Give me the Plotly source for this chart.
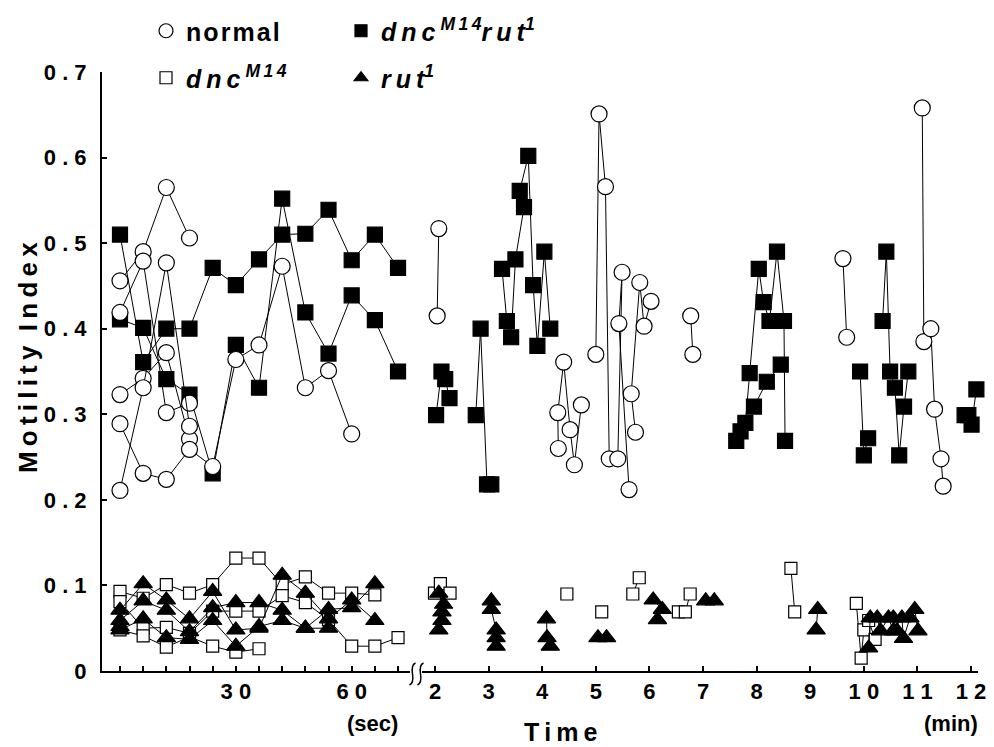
import plotly.graph_objects as go

# ---------------- data ----------------
# seconds section: one value every 6 s (columns at 0, 6, ..., 72 s)
SEC_T = [0, 6, 12, 18, 24, 30, 36, 42, 48, 54, 60, 66, 72]

NORMAL_SEC = [
    [0.456, 0.490, 0.565, 0.506],
    [0.419, 0.479, 0.302, 0.313],
    [0.323, 0.342, 0.372, 0.271],
    [0.289, 0.231, 0.224, 0.259, 0.239, 0.364, 0.381, 0.473, 0.331, 0.351, 0.277],
    [0.211, 0.331, 0.477, 0.286],
]
DNCRUT_SEC = [
    [0.510, 0.361, 0.400, 0.400, 0.471, 0.451, 0.481, 0.510, 0.511, 0.539, 0.480, 0.510, 0.471],
    [0.411, 0.401, 0.341, 0.323, 0.231, 0.381, 0.331, 0.552, 0.419, 0.371, 0.439, 0.410, 0.350],
]
DNC_SEC = [
    [0.093, 0.085, 0.101, 0.091, 0.101, 0.132, 0.132, 0.101, 0.110, 0.091, 0.091, 0.089],
    [0.081, 0.050, 0.051, 0.044, 0.070, 0.070, 0.070, 0.088, 0.080, 0.060, 0.029, 0.029, 0.039],
    [0.048, 0.041, 0.028, 0.040, 0.029, 0.022, 0.026],
]
RUT_SEC = [
    [0.071, 0.102, 0.083, 0.061, 0.093, 0.048, 0.050, 0.112, 0.091, 0.061, 0.083, 0.059],
    [0.059, 0.082, 0.071, 0.046, 0.074, 0.080, 0.080, 0.071, 0.050, 0.072, 0.074, 0.102],
    [0.048, 0.061, 0.039, 0.037, 0.059, 0.029, 0.052, 0.059, 0.050, 0.050],
    [0.052],
]

# minutes section: (time in min, value) per recorded run
NORMAL_MIN_T = [
    [2.07, 2.04],
    [4.30, 4.29, 4.40, 4.52, 4.60, 4.73],
    [5.00, 5.06, 5.18, 5.25],
    [5.41, 5.49, 5.43, 5.62],
    [5.74, 5.66, 5.82, 5.90, 6.03],
    [6.77, 6.81],
    [9.61, 9.68],
    [11.09, 11.12, 11.25, 11.32, 11.44, 11.48],
]
NORMAL_MIN_V = [
    [0.517, 0.415],
    [0.260, 0.302, 0.361, 0.282, 0.241, 0.311],
    [0.370, 0.651, 0.566, 0.248],
    [0.248, 0.466, 0.406, 0.212],
    [0.279, 0.324, 0.454, 0.403, 0.432],
    [0.415, 0.370],
    [0.482, 0.390],
    [0.658, 0.385, 0.400, 0.306, 0.248, 0.216],
]
DNCRUT_MIN_T = [
    [2.02, 2.12, 2.19, 2.27],
    [2.76, 2.85, 2.97, 3.05],
    [3.25, 3.34, 3.42, 3.50, 3.66, 3.58, 3.74, 3.83, 3.91, 4.04, 4.15],
    [7.62, 7.70, 7.79, 7.87, 8.04, 8.13, 8.24, 8.38, 8.51, 8.53],
    [7.95, 8.19, 8.45],
    [9.93, 10.00, 10.08],
    [10.35, 10.42, 10.49, 10.58, 10.66, 10.75, 10.83],
    [11.88, 11.95, 12.01, 12.10],
]
DNCRUT_MIN_V = [
    [0.299, 0.350, 0.341, 0.319],
    [0.299, 0.400, 0.218, 0.218],
    [0.470, 0.409, 0.390, 0.481, 0.542, 0.561, 0.602, 0.451, 0.380, 0.490, 0.400],
    [0.269, 0.280, 0.290, 0.348, 0.470, 0.431, 0.409, 0.490, 0.409, 0.269],
    [0.309, 0.338, 0.358],
    [0.350, 0.252, 0.272],
    [0.409, 0.490, 0.350, 0.331, 0.252, 0.309, 0.350],
    [0.299, 0.299, 0.288, 0.329],
]
DNC_MIN_T = [
    [1.99, 2.10, 2.28],
    [4.46],
    [5.11],
    [5.69, 5.81],
    [6.54, 6.67, 6.76],
    [8.64, 8.71],
    [9.86, 9.95, 10.00, 10.09, 10.21],
]
DNC_MIN_V = [
    [0.091, 0.102, 0.091],
    [0.090],
    [0.069],
    [0.090, 0.109],
    [0.069, 0.069, 0.090],
    [0.120, 0.069],
    [0.079, 0.015, 0.048, 0.059, 0.037],
]
RUT_MIN_T = [
    [2.07, 2.16, 2.13, 2.13, 2.07],
    [3.05, 3.05, 3.14, 3.14, 3.14],
    [4.08, 4.09, 4.15],
    [5.04, 5.20],
    [6.07, 6.24, 6.15],
    [7.05, 7.21],
    [9.14, 9.11],
    [10.09, 10.12, 10.25, 10.31, 10.46, 10.55, 10.71, 10.74, 10.86, 10.95, 11.01],
    [10.55, 10.62],
]
RUT_MIN_V = [
    [0.091, 0.078, 0.069, 0.059, 0.048],
    [0.082, 0.072, 0.048, 0.039, 0.029],
    [0.061, 0.039, 0.029],
    [0.039, 0.039],
    [0.083, 0.072, 0.060],
    [0.082, 0.082],
    [0.072, 0.048],
    [0.027, 0.062, 0.062, 0.047, 0.062, 0.047, 0.062, 0.038, 0.062, 0.072, 0.047],
    [0.062, 0.047],
]

TS = "\u2009"   # thin space (letter spacing)
HS = "\u200a"   # hair space
Y_TICKS = [0, 0.1, 0.2, 0.3, 0.4, 0.5, 0.6, 0.7]
Y_TICKTEXT = ["0", "0 . 1", "0 . 2", "0 . 3", "0 . 4", "0 . 5", "0 . 6", "0 . 7"]
SEC_TICKS = SEC_T
SEC_TICKTEXT = ["", "", "", "", "", "3 0", "", "", "", "", "6 0", "", ""]
MIN_TICKS = [2, 3, 4, 5, 6, 7, 8, 9, 10, 11, 12]
MIN_TICKTEXT = ["2", "3", "4", "5", "6", "7", "8", "9", "1 0", "1 1", "1 2"]


def bold(s):
    return "<b>" + s + "</b>" if s else s


# ---------------- styles ----------------
STYLES = {
    "dncrut": dict(symbol="square", size=15, color="black"),
    "normal": dict(symbol="circle", size=16, color="white"),
    "dnc": dict(symbol="square", size=12, color="white"),
    "rut": dict(symbol="triangle-up", size=16, color="black"),
}
FONT = "Liberation Sans, Arial, sans-serif"

fig = go.Figure()


def add_series(xs, ys, kind, xaxis):
    st = STYLES[kind]
    fig.add_trace(go.Scatter(
        x=xs, y=ys, mode="lines+markers", xaxis=xaxis, yaxis="y",
        line=dict(color="black", width=1),
        marker=dict(symbol=st["symbol"], size=st["size"], color=st["color"],
                    line=dict(color="black", width=1.2)),
        showlegend=False, cliponaxis=False, hoverinfo="skip",
    ))


# draw order: black squares, circles, open squares, triangles
for vals in DNCRUT_SEC:
    add_series(SEC_T[:len(vals)], vals, "dncrut", "x")
for ts, vs in zip(DNCRUT_MIN_T, DNCRUT_MIN_V):
    add_series(ts, vs, "dncrut", "x2")
for vals in NORMAL_SEC:
    add_series(SEC_T[:len(vals)], vals, "normal", "x")
for ts, vs in zip(NORMAL_MIN_T, NORMAL_MIN_V):
    add_series(ts, vs, "normal", "x2")
for vals in DNC_SEC:
    add_series(SEC_T[:len(vals)], vals, "dnc", "x")
for ts, vs in zip(DNC_MIN_T, DNC_MIN_V):
    add_series(ts, vs, "dnc", "x2")
for vals in RUT_SEC:
    add_series(SEC_T[:len(vals)], vals, "rut", "x")
for ts, vs in zip(RUT_MIN_T, RUT_MIN_V):
    add_series(ts, vs, "rut", "x2")

# legend entries (two legends = two rows)
DNC = "<i>" + TS.join("dnc") + "</i>" + TS + "<sup><i>M" + TS + "1" + TS + "4</i></sup>"
LEG = [
    ("normal", "<b>" + HS.join("normal") + "</b>", "legend"),
    ("dncrut", "<b>" + DNC + "<i>" + TS.join("rut") + "</i><sup><i>1</i></sup></b>", "legend"),
    ("dnc", "<b>" + DNC + "</b>", "legend2"),
    ("rut", "<b><i>" + TS.join("rut") + "</i><sup><i>1</i></sup></b>", "legend2"),
]
for kind, name, leg in LEG:
    st = STYLES[kind]
    fig.add_trace(go.Scatter(
        x=[None], y=[None], mode="markers", name=name, legend=leg, xaxis="x", yaxis="y",
        marker=dict(symbol=st["symbol"], size=14 if kind == "normal" else 12, color=st["color"],
                    line=dict(color="black", width=1.2)),
    ))

# page body has an 8px margin: figure is sized so the page matches the 994x747 window
OFF = 8
W, H = 994 - OFF, 747 - OFF
L, R, T, B = 94, 16, 64, 76
PW, PH = W - L - R, H - T - B


def px(xs):
    """screen x (window pixels) -> paper fraction"""
    return (xs - OFF - L) / PW


def py(ys):
    """screen y (window pixels) -> paper fraction"""
    return (H - B - (ys - OFF)) / PH


axis_common = dict(
    showline=True, linecolor="black", linewidth=2, ticks="inside", ticklen=5,
    tickwidth=1.5, tickcolor="black", showgrid=False, zeroline=False, automargin=False,
    tickfont=dict(family=FONT, size=22, color="black"),
)

legend_common = dict(
    orientation="h", xanchor="left", yanchor="middle", bgcolor="rgba(0,0,0,0)",
    font=dict(family=FONT, size=25, color="black"),
    entrywidth=150, entrywidthmode="pixels", itemsizing="trace",
    traceorder="normal", tracegroupgap=0, itemclick=False,
)

# break mark on the time axis
shapes = []
for xc in (412.5, 420.5):
    pts = [(xc - 3, 685), (xc + 1.5, 683), (xc, 674), (xc - 1.5, 665), (xc + 3, 663)]
    p = [(px(a), py(b)) for a, b in pts]
    path = "M{},{} Q{},{} {},{} T{},{}".format(
        p[0][0], p[0][1], p[1][0], p[1][1], p[2][0], p[2][1], p[4][0], p[4][1])
    shapes.append(dict(type="path", xref="paper", yref="paper", path=path,
                       line=dict(color="black", width=1.5)))

tf = dict(family=FONT, size=22, color="black")

fig.update_layout(
    width=W, height=H,
    margin=dict(l=L, r=R, t=T, b=B, autoexpand=False),
    paper_bgcolor="white", plot_bgcolor="white",
    xaxis=dict(domain=[0, px(410)], range=[-4.66, 75.1], anchor="y",
               tickvals=SEC_TICKS, ticktext=[bold(s) for s in SEC_TICKTEXT],
               ticklabelstandoff=0, **axis_common),
    xaxis2=dict(domain=[px(422), 1], range=[1.757, 12.13], anchor="y",
                tickvals=MIN_TICKS, ticktext=[bold(s) for s in MIN_TICKTEXT],
                ticklabelstandoff=0, **axis_common),
    yaxis=dict(domain=[0, 1], range=[0, 0.7], anchor="x",
               tickvals=Y_TICKS, ticktext=[bold(s) for s in Y_TICKTEXT],
               ticklabelstandoff=9, **axis_common),
    legend=dict(x=px(146), y=py(31), **legend_common),
    legend2=dict(x=px(146), y=py(78), **legend_common),
    shapes=shapes,
    annotations=[
        dict(text="<b>(sec)</b>", x=px(372), y=py(723), xref="paper", yref="paper", showarrow=False,
             xanchor="center", yanchor="middle", font=tf),
        dict(text="<b>(min)</b>", x=px(951), y=py(723), xref="paper", yref="paper", showarrow=False,
             xanchor="center", yanchor="middle", font=tf),
        dict(text="<b>" + TS.join("Time") + "</b>", x=px(560), y=py(732), xref="paper", yref="paper",
             showarrow=False, xanchor="center", yanchor="middle",
             font=dict(family=FONT, size=25, color="black")),
        dict(text="<b>" + TS.join("Motility") + "  " + TS.join("Index") + "</b>", x=px(28), y=py(358),
             xref="paper", yref="paper", showarrow=False, textangle=-90,
             xanchor="center", yanchor="middle",
             font=dict(family=FONT, size=26, color="black")),
    ],
)

fig.write_html("out.html")
